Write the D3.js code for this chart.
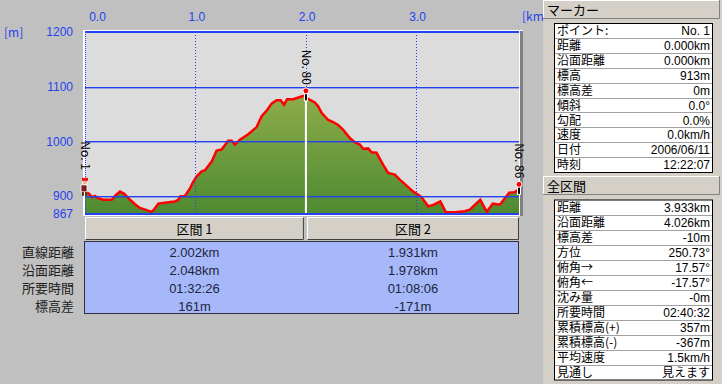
<!DOCTYPE html>
<html>
<head>
<meta charset="utf-8">
<script src="https://cdn.jsdelivr.net/npm/d3@7"></script>
<style>
  body { margin: 0; background: #c0c0c0; }
  svg { display: block; font-family: "Noto Sans CJK JP", sans-serif; font-size: 12px; }
  .num { font-family: "Liberation Sans", "Noto Sans CJK JP", sans-serif; }
</style>
</head>
<body>
<div id="holder"></div>
<script>
// profile
var distKm = [0.000, 0.036, 0.063, 0.091, 0.118, 0.163, 0.242, 0.272, 0.317, 0.356,
  0.408, 0.453, 0.498, 0.559, 0.604, 0.625, 0.664, 0.740, 0.815, 0.845,
  0.861, 0.906, 0.951, 0.978, 1.012, 1.057, 1.087, 1.148, 1.193, 1.238,
  1.298, 1.329, 1.359, 1.404, 1.479, 1.555, 1.601, 1.646, 1.691, 1.736,
  1.773, 1.803, 1.832, 1.887, 1.947, 2.002, 2.008, 2.038, 2.083, 2.113,
  2.144, 2.204, 2.249, 2.294, 2.340, 2.400, 2.446, 2.491, 2.521, 2.566,
  2.597, 2.642, 2.702, 2.747, 2.808, 2.853, 2.914, 2.974, 3.019, 3.050,
  3.110, 3.161, 3.220, 3.270, 3.351, 3.442, 3.487, 3.582, 3.641, 3.696,
  3.759, 3.845, 3.895, 3.933];
var elevM = [908, 904, 898, 900, 896, 893, 893, 900, 908, 904,
  893, 885, 878, 874, 871, 875, 886, 888, 890, 893,
  899, 900, 914, 925, 936, 945, 947, 963, 983, 985,
  1001, 1001, 994, 1003, 1013, 1026, 1046, 1056, 1069, 1075,
  1075, 1067, 1077, 1077, 1081, 1084, 1079, 1076, 1071, 1064,
  1052, 1039, 1035, 1030, 1021, 1006, 998, 994, 986, 987,
  980, 979, 957, 942, 939, 930, 919, 908, 902, 898,
  881, 884, 890, 870, 870, 872, 875, 893, 871, 886,
  884, 906, 907, 912];

var xTicks = [0, 1, 2, 3];
var yTicks = [867, 900, 1000, 1100, 1200];
var yGrid = [900, 1000, 1100];

var markerNames = ['No. 1', 'No. 80', 'No. 86'];
var markerDist = [0, 2.002, 3.933];
var markerElev = [913, 1074, 903];

var sectionNames = ['区間 1', '区間 2'];
var sectionRowLabels = ['直線距離', '沿面距離', '所要時間', '標高差'];
var section1Values = ['2.002km', '2.048km', '01:32:26', '161m'];
var section2Values = ['1.931km', '1.978km', '01:08:06', '-171m'];

var markerLabels = ['ポイント:', '距離', '沿面距離', '標高', '標高差', '傾斜', '勾配', '速度', '日付', '時刻'];
var markerValues = ['No. 1', '0.000km', '0.000km', '913m', '0m', '0.0°', '0.0%', '0.0km/h', '2006/06/11', '12:22:07'];

var totalLabels = ['距離', '沿面距離', '標高差', '方位', '俯角→', '俯角←', '沈み量', '所要時間', '累積標高(+)', '累積標高(-)', '平均速度', '見通し'];
var totalValues = ['3.933km', '4.026km', '-10m', '250.73°', '17.57°', '-17.57°', '-0m', '02:40:32', '357m', '-367m', '1.5km/h', '見えます'];

var fullWidth = 722;
var fullHeight = 384;
var blue = '#2442f0';

var svg = d3.select('#holder').append('svg')
  .attr('width', fullWidth)
  .attr('height', fullHeight);

svg.append('rect').attr('width', fullWidth).attr('height', fullHeight).attr('fill', '#c0c0c0');

var x = d3.scaleLinear().domain([0, 3.933]).range([85, 519]);
var y = d3.scaleLinear().domain([867, 1200]).range([214, 32]);

var defs = svg.append('defs');
var grad = defs.append('linearGradient').attr('id', 'fillGrad')
  .attr('gradientUnits', 'userSpaceOnUse')
  .attr('x1', 0).attr('x2', 0).attr('y1', y(1090)).attr('y2', y(867));
grad.append('stop').attr('offset', '0%').attr('stop-color', '#8fad4a');
grad.append('stop').attr('offset', '100%').attr('stop-color', '#4e8a32');

defs.append('clipPath').attr('id', 'plotClip').append('rect')
  .attr('x', x(0)).attr('y', y(1200)).attr('width', x(3.933) - x(0)).attr('height', y(867) - y(1200));

// plot frame
svg.append('rect').attr('x', 83).attr('y', 30).attr('width', 440).attr('height', 186).attr('fill', '#ffffff');
svg.append('rect').attr('x', 520).attr('y', 31).attr('width', 3).attr('height', 185).attr('fill', '#808080');
svg.append('rect')
  .attr('x', x(0)).attr('y', y(1200))
  .attr('width', x(3.933) - x(0)).attr('height', y(867) - y(1200))
  .attr('fill', '#dcdcdc');

var plot = svg.append('g').attr('clip-path', 'url(#plotClip)');

var area = d3.area()
  .x(function(d, i) { return x(distKm[i]); })
  .y0(y(867))
  .y1(function(d) { return y(d); });

plot.append('path').datum(elevM)
  .attr('d', area)
  .attr('fill', 'url(#fillGrad)');

// grid
svg.selectAll('rect.hgrid').data(yGrid).enter().append('rect')
  .classed('hgrid', true)
  .attr('x', x(0)).attr('width', x(3.933) - x(0))
  .attr('y', function(d) { return Math.round(y(d)); })
  .attr('height', 1.4)
  .attr('fill', blue);

svg.selectAll('line.vgrid').data(xTicks.slice(1)).enter().append('line')
  .classed('vgrid', true)
  .attr('x1', function(d) { return Math.round(x(d)) + 0.5; })
  .attr('x2', function(d) { return Math.round(x(d)) + 0.5; })
  .attr('y1', y(1200)).attr('y2', y(867))
  .attr('stroke', blue).attr('stroke-dasharray', '1,2')
  .attr('shape-rendering', 'crispEdges');

svg.append('line').attr('x1', x(0) + 0.5).attr('x2', x(0) + 0.5)
  .attr('y1', y(1200)).attr('y2', y(867))
  .attr('stroke', blue).attr('stroke-dasharray', '1,1');
svg.append('line').attr('x1', x(0)).attr('x2', x(3.933))
  .attr('y1', y(1200)).attr('y2', y(1200))
  .attr('stroke', blue).attr('stroke-width', 2);
svg.append('line').attr('x1', x(0)).attr('x2', x(3.933))
  .attr('y1', y(867)).attr('y2', y(867))
  .attr('stroke', blue).attr('stroke-width', 2);

// section divider
svg.append('line')
  .attr('x1', x(markerDist[1])).attr('x2', x(markerDist[1]))
  .attr('y1', y(markerElev[1])).attr('y2', y(867) - 1)
  .attr('stroke', '#ffffff').attr('stroke-width', 2);

var line = d3.line()
  .x(function(d, i) { return x(distKm[i]); })
  .y(function(d) { return y(d); });

plot.append('path').datum(elevM)
  .attr('d', line)
  .attr('fill', 'none')
  .attr('stroke', '#ff0000')
  .attr('stroke-width', 2.5)
  .attr('stroke-linejoin', 'miter');

// axes
var xaxis = d3.axisTop(x).tickValues(xTicks).tickFormat(d3.format('.1f')).tickSize(0).tickPadding(2);
var gx = svg.append('g').attr('transform', 'translate(0,23)').call(xaxis);
gx.select('.domain').remove();
gx.selectAll('text').attr('fill', blue).style('font-size', '12px')
  .attr('dx', function(d) { return d === 0 ? 12 : 1; });

var yaxis = d3.axisLeft(y).tickValues(yTicks).tickFormat(d3.format('d')).tickSize(0).tickPadding(12);
var gy = svg.append('g').attr('transform', 'translate(85,0)').call(yaxis);
gy.select('.domain').remove();
gy.selectAll('text').attr('fill', blue).style('font-size', '12px');

svg.append('text').attr('x', 4).attr('y', 37).attr('fill', blue).text('[m]');
svg.append('text').attr('x', 522).attr('y', 21).attr('fill', blue).text('[km]');

// markers
markerNames.forEach(function(name, i) {
  var mx = x(markerDist[i]);
  var my = y(markerElev[i]);
  if (i === 0) {
    // hiker
    var h = svg.append('g');
    h.append('rect').attr('x', mx - 4).attr('y', my - 4).attr('width', 6).attr('height', 7).attr('fill', '#7a1c1c').attr('stroke', '#fff').attr('stroke-width', 0.8);
    h.append('rect').attr('x', mx - 3).attr('y', my + 3).attr('width', 2).attr('height', 4).attr('fill', '#5a3a20');
    h.append('rect').attr('x', mx + 0).attr('y', my + 3).attr('width', 2).attr('height', 4).attr('fill', '#5a3a20');
    h.append('circle').attr('cx', mx).attr('cy', my - 7).attr('r', 3).attr('fill', '#e8b890').attr('stroke', '#fff').attr('stroke-width', 0.8);
    h.append('rect').attr('x', mx - 3).attr('y', my - 11).attr('width', 6).attr('height', 3).attr('fill', '#ee1111');
  } else {
    svg.append('rect').attr('x', mx - 1.5).attr('y', my - 8).attr('width', 3).attr('height', 8)
      .attr('fill', '#000').attr('stroke', '#fff').attr('stroke-width', 1);
    svg.append('circle').attr('cx', mx).attr('cy', my - 10).attr('r', 3)
      .attr('fill', '#ff0000').attr('stroke', '#fff').attr('stroke-width', 1);
  }
  svg.append('text')
    .attr('transform', 'translate(' + mx + ',' + (my - (i === 0 ? 19 : 16)) + ') rotate(90)')
    .attr('text-anchor', 'end')
    .attr('dy', '0.35em')
    .attr('fill', '#000')
    .text(name);
});

// section table
var colX = [x(0), x(markerDist[1]), x(3.933)];
svg.append('rect').attr('x', 84.5).attr('y', 241.5).attr('width', 434).attr('height', 72)
  .attr('fill', '#a6b8fa').attr('stroke', '#303040');

sectionNames.forEach(function(name, i) {
  var x0 = colX[i] + (i === 0 ? 0 : 1), x1 = colX[i + 1] - (i === 0 ? 2 : 0);
  var g = svg.append('g');
  g.append('rect').attr('x', x0).attr('y', 217).attr('width', x1 - x0).attr('height', 23).attr('fill', '#d4d0c8');
  g.append('path').attr('d', 'M' + (x0 + 0.5) + ',240V217.5H' + (x1 - 0.5)).attr('fill', 'none').attr('stroke', '#fff');
  g.append('path').attr('d', 'M' + (x1 - 0.5) + ',217.5V239.5H' + (x0 + 0.5)).attr('fill', 'none').attr('stroke', '#404040');
  g.append('text').attr('x', (x0 + x1) / 2).attr('y', 229).attr('dy', '0.35em')
    .attr('text-anchor', 'middle').attr('fill', '#000').style('font-size', '13px').text(name);
  var vals = i === 0 ? section1Values : section2Values;
  g.selectAll('text.val').data(vals).enter().append('text')
    .attr('class', 'num')
    .attr('x', (x0 + x1) / 2)
    .attr('y', function(d, j) { return 252 + j * 18; })
    .attr('dy', '0.35em').attr('text-anchor', 'middle').attr('fill', '#20243a')
    .style('font-size', '13px')
    .text(function(d) { return d; });
});

svg.selectAll('text.rowlab').data(sectionRowLabels).enter().append('text')
  .attr('x', 74).attr('y', function(d, j) { return 252 + j * 18; })
  .attr('dy', '0.35em').attr('text-anchor', 'end').attr('fill', '#202020')
  .style('font-size', '13px')
  .text(function(d) { return d; });

// right panel
svg.append('rect').attr('x', 543).attr('y', 0).attr('width', 179).attr('height', 384).attr('fill', '#d4d0c8');

function header(yTop, label) {
  var g = svg.append('g');
  g.append('rect').attr('x', 543).attr('y', yTop).attr('width', 177).attr('height', 19).attr('fill', '#d4d0c8');
  g.append('path').attr('d', 'M543.5,' + (yTop + 19) + 'V' + (yTop + 0.5) + 'H719.5').attr('fill', 'none').attr('stroke', '#fff');
  g.append('path').attr('d', 'M719.5,' + yTop + 'V' + (yTop + 18.5) + 'H543').attr('fill', 'none').attr('stroke', '#808080');
  g.append('text').attr('x', 547).attr('y', yTop + 10).attr('dy', '0.35em').attr('fill', '#000')
    .style('font-size', '13px').text(label);
}

function infoBox(yTop, rowH, labels, values) {
  var g = svg.append('g');
  var h = rowH * labels.length;
  g.append('rect').attr('x', 554.5).attr('y', yTop + 0.5).attr('width', 158).attr('height', h)
    .attr('fill', '#fff').attr('stroke', '#000');
  g.selectAll('line').data(labels.slice(1)).enter().append('line')
    .attr('x1', 555).attr('x2', 712)
    .attr('y1', function(d, j) { return Math.round(yTop + (j + 1) * rowH) + 0.5; })
    .attr('y2', function(d, j) { return Math.round(yTop + (j + 1) * rowH) + 0.5; })
    .attr('stroke', '#a0a0a0');
  g.selectAll('text.lab').data(labels).enter().append('text')
    .attr('x', 557).attr('y', function(d, j) { return yTop + (j + 0.5) * rowH + 0.5; })
    .attr('dy', '0.35em').attr('fill', '#000').style('font-size', '12px')
    .text(function(d) { return d; });
  g.selectAll('text.val').data(values).enter().append('text')
    .attr('class', 'num')
    .attr('x', 710).attr('y', function(d, j) { return yTop + (j + 0.5) * rowH + 0.5; })
    .attr('dy', '0.35em').attr('text-anchor', 'end').attr('fill', '#000').style('font-size', '12px')
    .text(function(d) { return d; });
}

header(0, 'マーカー');
infoBox(23, 14.9, markerLabels, markerValues);
header(176, '全区間');
infoBox(199.5, 15, totalLabels, totalValues);
</script>
</body>
</html>
